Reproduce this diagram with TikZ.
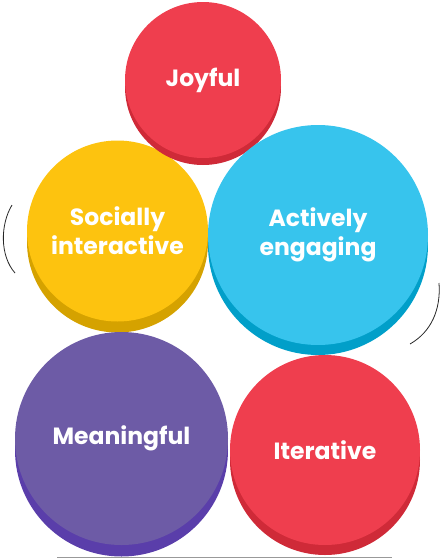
\documentclass[tikz,border=0pt]{standalone}
\usepackage{fontspec}
\setmainfont{Poppins}
\definecolor{joyred}{HTML}{EF3E4E}
\definecolor{joyshade}{HTML}{CF2A38}
\definecolor{socyellow}{HTML}{FDC30F}
\definecolor{socshade}{HTML}{D5A200}
\definecolor{actblue}{HTML}{37C4ED}
\definecolor{actshade}{HTML}{019FC9}
\definecolor{meanpurple}{HTML}{6D5BA6}
\definecolor{meanshade}{HTML}{5A3EAA}
\begin{document}
\begin{tikzpicture}[x=1pt,y=-1pt,
  disc/.style={shape=circle, inner sep=0pt, align=center, text=white,
    font=\bfseries\fontsize{23.5}{29}\selectfont}]
  \useasboundingbox (0,0) rectangle (447,560);
  \draw[gray!80, line width=1.3pt] (57,557.5) coordinate (g0) -- (392,557.5) coordinate (g1);
  \node[disc, fill=socshade, minimum size=181pt] (soc-s) at (117.5,242) {};
  \node[disc, fill=socyellow, minimum size=181pt] (soc) at (117.5,231) {Socially\\interactive};
  \node[disc, fill=joyshade, minimum size=156pt] (joy-s) at (203,87) {};
  \node[disc, fill=joyred, minimum size=156pt] (joy) at (203,80) {Joyful};
  \node[disc, fill=actshade, minimum size=220pt] (act-s) at (318,245) {};
  \node[disc, fill=actblue, minimum size=220pt] (act) at (318,235) {Actively\\engaging};
  \node[disc, fill=meanshade, minimum size=213pt] (mean-s) at (121.5,450) {};
  \node[disc, fill=meanpurple, minimum size=213pt] (mean) at (121.5,438.5) {Meaningful};
  \node[disc, fill=joyshade, minimum size=190pt] (iter-s) at (325,460) {};
  \node[disc, fill=joyred, minimum size=190pt] (iter) at (325,450) {Iterative};
  \coordinate (la) at (12,205);
  \coordinate (lb) at (15,273);
  \coordinate (ra) at (439,283);
  \coordinate (rb) at (410,344);
  \draw[black!85, line width=0.8pt] (la) .. controls (0,225) and (0,256) .. (lb);
  \draw[black!85, line width=0.8pt] (ra) .. controls (441,310) and (431,332) .. (rb);
\end{tikzpicture}
\end{document}
